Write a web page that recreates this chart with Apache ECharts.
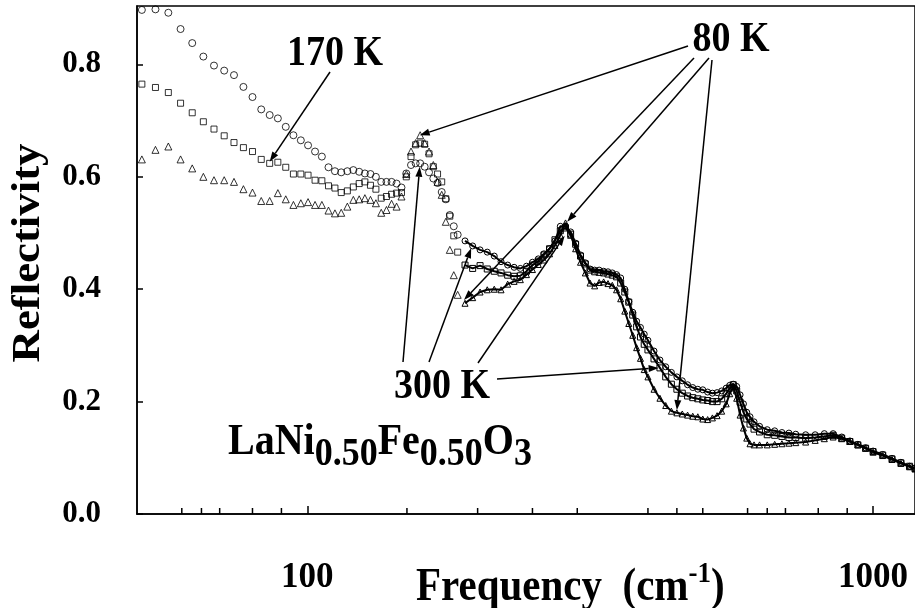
<!DOCTYPE html>
<html><head><meta charset="utf-8">
<script src="https://cdn.jsdelivr.net/npm/echarts@6/dist/echarts.min.js"></script>
<style>html,body{margin:0;padding:0;background:#fff}#c{width:915px;height:608px}</style>
</head><body><div id="c"></div>
<script>
// ---- data (frequency in cm-1, reflectivity) ----
const freqLow = [51.0,53.9,56.8,59.7,62.6,65.5,68.4,71.3,74.2,77.1,80.0,82.9,85.8,88.7,91.6,94.5,97.4,100.3,103.2,106.1,109.0,111.9,114.8,117.7,120.6,123.5,126.4,129.3,132.2,135.1,138.0,140.9,143.8,146.7,149.6,152.5,155.4,158.3,161.2,164.1,167.0,169.9,172.8,175.7,178.6,181.5,184.4];
const r300Low = [0.897,0.898,0.892,0.863,0.838,0.814,0.798,0.789,0.781,0.760,0.742,0.720,0.710,0.704,0.689,0.674,0.665,0.656,0.645,0.636,0.617,0.610,0.608,0.610,0.612,0.609,0.606,0.605,0.600,0.591,0.591,0.591,0.588,0.581,0.606,0.621,0.624,0.624,0.618,0.608,0.597,0.589,0.573,0.560,0.532,0.512,0.497];
const r170Low = [0.765,0.759,0.750,0.731,0.714,0.698,0.685,0.673,0.661,0.652,0.645,0.631,0.624,0.626,0.617,0.605,0.605,0.603,0.594,0.593,0.584,0.580,0.572,0.575,0.582,0.588,0.591,0.585,0.578,0.562,0.565,0.569,0.571,0.572,0.600,0.636,0.657,0.660,0.658,0.641,0.618,0.605,0.591,0.561,0.530,0.495,0.466];
const r80Low = [0.631,0.648,0.654,0.631,0.615,0.600,0.594,0.594,0.591,0.578,0.572,0.557,0.557,0.571,0.560,0.550,0.553,0.555,0.550,0.550,0.540,0.535,0.536,0.547,0.559,0.560,0.562,0.559,0.553,0.536,0.541,0.552,0.547,0.565,0.605,0.645,0.660,0.674,0.660,0.645,0.621,0.591,0.568,0.520,0.470,0.425,0.390];

const freqHigh = [190,196,202,208,214,220,226,232,238,244,250,256,262,268,274,280,286,292,298,304,310,316,322,328,334,340,346,352,358,364,370,376,382,388,394,400,410,420,430,440,450,460,470,480,490,500,510,520,530,540,550,558,566,574,582,590,598,606,616,630,650,670,690,710,730,760,790,820,850,880,910,940,970,1000,1040,1080,1120,1160,1186];
const r300High = [0.486,0.477,0.470,0.466,0.459,0.449,0.443,0.439,0.437,0.441,0.448,0.454,0.463,0.472,0.486,0.512,0.512,0.502,0.482,0.461,0.447,0.436,0.434,0.434,0.432,0.431,0.429,0.426,0.420,0.400,0.378,0.359,0.343,0.332,0.320,0.309,0.290,0.274,0.262,0.252,0.244,0.237,0.230,0.225,0.222,0.221,0.217,0.215,0.216,0.219,0.224,0.229,0.231,0.227,0.212,0.196,0.181,0.173,0.164,0.156,0.150,0.148,0.145,0.144,0.142,0.141,0.141,0.143,0.143,0.137,0.130,0.124,0.118,0.112,0.106,0.099,0.092,0.085,0.082];
const r170High = [0.443,0.437,0.442,0.436,0.432,0.429,0.425,0.423,0.424,0.432,0.443,0.450,0.461,0.472,0.488,0.504,0.509,0.498,0.480,0.459,0.445,0.434,0.431,0.430,0.429,0.427,0.425,0.422,0.411,0.395,0.377,0.354,0.333,0.315,0.302,0.292,0.276,0.260,0.244,0.231,0.222,0.215,0.210,0.207,0.205,0.203,0.202,0.200,0.200,0.205,0.214,0.224,0.230,0.219,0.199,0.181,0.169,0.160,0.151,0.146,0.141,0.140,0.138,0.136,0.136,0.135,0.136,0.138,0.140,0.135,0.129,0.123,0.117,0.111,0.105,0.098,0.091,0.085,0.081];
const r80High = [0.375,0.385,0.395,0.399,0.400,0.399,0.409,0.414,0.417,0.426,0.435,0.444,0.452,0.463,0.478,0.496,0.518,0.496,0.472,0.448,0.429,0.411,0.406,0.412,0.413,0.410,0.407,0.399,0.383,0.361,0.339,0.318,0.296,0.277,0.257,0.244,0.222,0.206,0.193,0.183,0.180,0.178,0.176,0.174,0.173,0.169,0.168,0.171,0.175,0.183,0.196,0.214,0.227,0.206,0.176,0.153,0.135,0.125,0.123,0.123,0.123,0.124,0.125,0.126,0.127,0.128,0.131,0.134,0.137,0.134,0.129,0.123,0.117,0.110,0.104,0.097,0.090,0.084,0.080];

const xMinorTicks = [60,65,70,80,90,150,200,250,300,400,450,500,600,650,700,800,900];
const yTickStep = 0.2;

// annotations: label text, label centre (px), arrow start (px) and arrow target (data)
const annotations = [
  {text:'170 K', pos:[335,54], arrows:[{from:[330,72], to:[85.8,0.627]}]},
  {text:'80 K', pos:[731,40], arrows:[
    {from:[688,46], to:[158,0.674]},
    {from:[694,58], to:[189.2,0.381]},
    {from:[709,58], to:[288,0.520]},
    {from:[712,60], to:[450,0.185]}]},
  {text:'300 K', pos:[442,387], arrows:[
    {from:[403,362], to:[158,0.618]},
    {from:[429,362], to:[194.8,0.473]},
    {from:[478,363], to:[285,0.495]},
    {from:[497,379], to:[417.8,0.260]}]}
];

const FONT = '"Liberation Serif", "Times New Roman", serif';
const pairs = (xs, ys) => xs.map((x,i)=>[x, ys[i]]);
const mkStyle = {color:'rgba(0,0,0,0)', borderColor:'#000', borderWidth:1};

function lowSeries(sym, size, ys){
  return {type:'scatter', data:pairs(freqLow, ys), symbol:sym, symbolSize:size,
    itemStyle:mkStyle, silent:true, animation:false};
}
function highSeries(sym, size, ys){
  return {type:'line', data:pairs(freqHigh, ys), symbol:sym, symbolSize:size, showSymbol:true,
    itemStyle:mkStyle, lineStyle:{color:'#000', width:2}, silent:true, animation:false};
}

const chart = echarts.init(document.getElementById('c'), null, {renderer:'canvas'});
chart.setOption({
  animation:false,
  backgroundColor:'#fff',
  grid:{left:137, right:-2, top:6, bottom:94, show:true, borderColor:'#000', borderWidth:1.5},
  xAxis:{type:'log', logBase:10, min:50, max:1186,
    axisLine:{lineStyle:{color:'#000', width:1.5}},
    axisTick:{inside:true, length:8, lineStyle:{color:'#000', width:1.5}},
    axisLabel:{showMinLabel:false, showMaxLabel:false, margin:46, color:'#000',
      fontFamily:FONT, fontWeight:'bold', fontSize:35, formatter:v=>String(Math.round(v))},
    splitLine:{show:false}},
  yAxis:{type:'value', min:0, max:0.904, interval:yTickStep,
    axisLine:{lineStyle:{color:'#000', width:1.5}},
    axisTick:{inside:true, length:6, lineStyle:{color:'#000', width:1.5}},
    axisLabel:{showMaxLabel:false, margin:36, color:'#000', fontFamily:FONT, fontWeight:'bold',
      fontSize:31, formatter:v=>v.toFixed(1)},
    splitLine:{show:false}},
  series:[
    lowSeries('circle', 7, r300Low), lowSeries('rect', 6, r170Low), lowSeries('triangle', 7, r80Low),
    highSeries('circle', 6, r300High), highSeries('rect', 6, r170High), highSeries('triangle', 6, r80High)
  ]
});

const px = (f, r) => chart.convertToPixel({gridIndex:0}, [f, r]);
const ctx = document.createElement('canvas').getContext('2d');
const tw = (t, s) => { ctx.font = 'bold ' + s + 'px ' + FONT; return ctx.measureText(t).width; };
const gfx = [];
const STRETCH = 1.12; // glyphs in the reference are slightly taller than wide
function txt(t, x, y, s, align, rot){
  const el = {type:'text', x:x, y:y, rotation:rot||0, z:100,
    style:{text:t, font:'bold ' + s + 'px ' + FONT, fill:'#000', textAlign:align||'center', textVerticalAlign:'middle'}};
  if (rot) el.scaleX = STRETCH; else el.scaleY = STRETCH;
  gfx.push(el);
}
function pieces(list, x0){
  let x = x0;
  list.forEach(p => { txt(p.t, x, p.y, p.s, 'left'); x += tw(p.t, p.s); });
}
function arrow(x1,y1,x2,y2){
  const a = Math.atan2(y2-y1, x2-x1), L = 10, W = 3.5;
  const bx = x2 - L*Math.cos(a), by = y2 - L*Math.sin(a);
  gfx.push({type:'line', z:100, shape:{x1:x1,y1:y1,x2:bx,y2:by}, style:{stroke:'#000', lineWidth:1.5}});
  gfx.push({type:'polygon', z:100, shape:{points:[[x2,y2],[bx - W*Math.sin(a), by + W*Math.cos(a)],[bx + W*Math.sin(a), by - W*Math.cos(a)]]}, style:{fill:'#000'}});
}
// minor ticks on x axis
xMinorTicks.forEach(v => { const p = px(v, 0); gfx.push({type:'line', z:100, shape:{x1:p[0], y1:p[1], x2:p[0], y2:p[1]-6}, style:{stroke:'#000', lineWidth:1.5}}); });
// axis titles
txt('Reflectivity', 29, 253, 40, 'center', Math.PI/2);
pieces([{t:'Frequency  (cm', s:41, y:588},{t:'-1', s:27, y:574},{t:')', s:41, y:588}], 416);
// compound label
pieces([{t:'LaNi', s:40, y:442},{t:'0.50', s:36, y:455},{t:'Fe', s:40, y:442},{t:'0.50', s:36, y:455},{t:'O', s:40, y:442},{t:'3', s:36, y:455}], 228);
// annotations
annotations.forEach(a => {
  txt(a.text, a.pos[0], a.pos[1], 38, 'center');
  a.arrows.forEach(r => { const p = px(r.to[0], r.to[1]); arrow(r.from[0], r.from[1], p[0], p[1]); });
});
chart.setOption({graphic:{elements:gfx}});
</script>
</body></html>
